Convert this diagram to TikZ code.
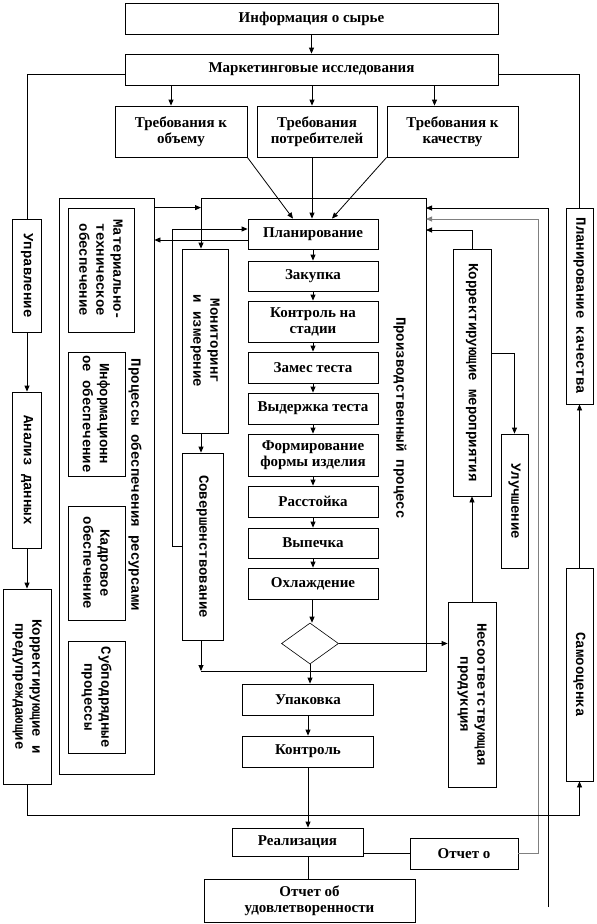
\documentclass[tikz,border=0pt]{standalone}
\usepackage{fontspec}
\setmainfont{Liberation Serif}
\newfontfamily\monofont{Liberation Mono}
\usetikzlibrary{shapes.geometric,arrows.meta,calc}

\begin{document}
\begin{tikzpicture}[
    x=1pt, y=-1pt,
    box/.style={draw, line width=0.8pt, fill=white, align=center, inner sep=1pt,
        font=\bfseries\fontsize{15}{16}\selectfont},
    vbox/.style={draw, line width=0.8pt, inner sep=0pt},
    vtext/.style={rotate=-90, align=center, inner sep=0pt,
        font=\monofont\bfseries\fontsize{14}{17}\selectfont},
    ln/.style={line width=0.8pt},
    arr/.style={->, line width=0.8pt, >={Triangle[length=6pt,width=5pt]}}
]
    \useasboundingbox (0,0) rectangle (597,924);

    % Top: information and marketing
    \node[box, minimum width=373pt, minimum height=31pt] (info) at (311.5,18.5) {Информация о сырье};
    \node[box, minimum width=373pt, minimum height=31pt] (mark) at (311.5,69.5) {Маркетинговые исследования};

    % Requirements
    \node[box, minimum width=132pt, minimum height=51pt] (req1) at (181,131.5) {Требования к\\объему};
    \node[box, minimum width=120pt, minimum height=51pt] (req2) at (317,131.5) {Требования\\потребителей};
    \node[box, minimum width=131pt, minimum height=51pt] (req3) at (452.5,131.5) {Требования к\\качеству};

    % Main production column
    \node[box, minimum width=130pt, minimum height=30pt] (plan) at (313,234) {Планирование};
    \node[box, minimum width=130pt, minimum height=30pt] (zak) at (313,276) {Закупка};
    \node[box, minimum width=130pt, minimum height=41pt] (kst) at (313,321.5) {Контроль на\\стадии};
    \node[box, minimum width=130pt, minimum height=31pt] (zam) at (313,367.5) {Замес теста};
    \node[box, minimum width=130pt, minimum height=31pt] (vyd) at (313,408.5) {Выдержка теста};
    \node[box, minimum width=130pt, minimum height=42pt] (form) at (313,455) {Формирование\\формы изделия};
    \node[box, minimum width=130pt, minimum height=31pt] (rass) at (313,501.5) {Расстойка};
    \node[box, minimum width=130pt, minimum height=30pt] (vyp) at (313,543) {Выпечка};
    \node[box, minimum width=130pt, minimum height=31pt] (ohl) at (313,583.5) {Охлаждение};
    \node[draw, diamond, line width=0.6pt, inner sep=0pt, minimum width=57pt, minimum height=41pt] (dia) at (310,643.5) {};
    \node[box, minimum width=131pt, minimum height=31pt] (upak) at (308,699.5) {Упаковка};
    \node[box, minimum width=131pt, minimum height=31pt] (kontr) at (308,751.5) {Контроль};
    \node[box, minimum width=131pt, minimum height=28pt] (real) at (297.5,842) {Реализация};
    \node[box, minimum width=108pt, minimum height=31pt] (otch) at (464,853.5) {Отчет о};
    \node[box, minimum width=211pt, minimum height=43pt] (udov) at (309.5,900.5) {Отчет об\\удовлетворенности};
    \node[vtext] (pp) at (400,418) {Производственный процесс};

    % Resource processes (left)
    \node[vbox, minimum width=95pt, minimum height=576pt] (proc) at (106.5,486) {};
    \node[vtext] at (135,485) {Процессы обеспечения ресурсами};
    \node[vbox, minimum width=66pt, minimum height=124pt] (mat) at (101,270) {};
    \node[vtext] at (mat) {Материально-\\техническое\\обеспечение};
    \node[vbox, minimum width=57pt, minimum height=124pt] (inf) at (96.5,414) {};
    \node[vtext] at (inf) {Информационн\\ое обеспечение};
    \node[vbox, minimum width=57pt, minimum height=114pt] (kad) at (96.5,563) {};
    \node[vtext] at (kad) {Кадровое\\обеспечение};
    \node[vbox, minimum width=57pt, minimum height=112pt] (sub) at (96.5,697) {};
    \node[vtext] at (sub) {Субподрядные\\процессы};

    % Far left chain
    \node[vbox, minimum width=29pt, minimum height=113pt] (upr) at (27,275.5) {};
    \node[vtext] at (upr) {Управление};
    \node[vbox, minimum width=29pt, minimum height=156pt] (anal) at (27,470) {};
    \node[vtext] at (anal) {Анализ данных};
    \node[vbox, minimum width=48pt, minimum height=195pt] (kpd) at (27,686.5) {};
    \node[vtext] at (kpd) {Корректирующие и\\предупреждающие};

    % Monitoring and improvement
    \node[vbox, minimum width=46pt, minimum height=184pt] (mon) at (205,341) {};
    \node[vtext] at (mon) {Мониторинг\\и измерение};
    \node[vbox, minimum width=41pt, minimum height=187pt] (sov) at (202.5,546.5) {};
    \node[vtext] at (sov) {Совершенствование};

    % Right side
    \node[vbox, minimum width=38pt, minimum height=247pt] (korr) at (472,372.5) {};
    \node[vtext] at (korr) {Корректирующие мероприятия};
    \node[vbox, minimum width=27pt, minimum height=134pt] (ulu) at (514.5,501) {};
    \node[vtext] at (ulu) {Улучшение};
    \node[vbox, minimum width=48pt, minimum height=185pt] (neso) at (472,694.5) {};
    \node[vtext] at (neso) {Несоответствующая\\продукция};
    \node[vbox, minimum width=27pt, minimum height=196pt] (plan2) at (579.5,306) {};
    \node[vtext] at (plan2) {Планирование качества};
    \node[vbox, minimum width=27pt, minimum height=213pt] (samo) at (579.5,674.5) {};
    \node[vtext] at (samo) {Самооценка};

    % Frame corners and free ends
    \coordinate (ftl) at (201,198);
    \coordinate (ftr) at (426,198);
    \coordinate (fbr) at (426,671);
    \coordinate (fbl) at (201,671);
    \coordinate (inlet) at (548,907);

    % Top connectors
    \draw[arr] (info.south) -- (info.south |- mark.north);
    \draw[arr] ([xshift=-10pt]req1.north |- mark.south) -- ([xshift=-10pt]req1.north);
    \draw[arr] ([xshift=-5pt]req2.north |- mark.south) -- ([xshift=-5pt]req2.north);
    \draw[arr] ([xshift=-18pt]req3.north |- mark.south) -- ([xshift=-18pt]req3.north);
    \draw[arr] (req1.south east) -- ([xshift=-20pt]plan.north);
    \draw[arr] ([xshift=-5pt]req2.south) -- ([xshift=-1pt]plan.north);
    \draw[arr] (req3.south west) -- ([xshift=19pt]plan.north);

    % Main column
    \draw[arr] (plan) -- (zak);
    \draw[arr] (zak) -- (kst);
    \draw[arr] (kst) -- (zam);
    \draw[arr] (zam) -- (vyd);
    \draw[arr] (vyd) -- (form);
    \draw[arr] (form) -- (rass);
    \draw[arr] (rass) -- (vyp);
    \draw[arr] (vyp) -- (ohl);
    \draw[arr] ([xshift=-1pt]ohl.south) -- ([xshift=-1pt]ohl.south |- dia.north);
    \draw[arr] (dia.south) -- (dia.south |- upak.north);
    \draw[arr] (upak) -- (kontr);
    \draw[arr] (kontr.south) -- (kontr.south |- real.north);
    \draw[ln] (kontr.south |- real.south) -- (kontr.south |- udov.north);
    \draw[ln] (otch.west) -- (otch.west -| real.east);

    % Frame of the production process
    \draw[ln] (ftl) -- (ftr) -- (fbr) -- (fbl);
    \draw[arr] (ftl) -- (ftl |- mon.north);
    \draw[arr] (ftl |- mon.south) -- (ftl |- sov.north);
    \draw[arr] (ftl |- sov.south) -- (fbl);
    \draw[arr] ([yshift=-10pt]proc.north east) -- ([yshift=-10pt]proc.north east -| ftl);
    \draw[arr] ([yshift=-6pt]plan.west) -- ([yshift=-6pt]plan.west -| proc.east);
    \draw[arr] (sov.west) -- ++(-9,0) |- ([yshift=5pt]plan.west);

    % Right side connectors
    \draw[arr] (inlet) |- ($(ftr)+(0,10)$);
    \draw[arr, draw=gray] (otch.east) -- ++(20,0) |- ($(ftr)+(0,21)$);
    \draw[arr] (korr.north) |- ($(ftr)+(0,32)$);
    \draw[arr] ([yshift=19pt]korr.east) -| (ulu.north);
    \draw[arr] (neso.north) -- (korr.south);
    \draw[arr] (dia.east) -- (dia.east -| neso.west);

    % Outer loops
    \draw[ln] ([yshift=-5pt]mark.west) -| (upr.north);
    \draw[arr] (upr) -- (anal);
    \draw[arr] (anal) -- (kpd);
    \draw[arr] (kpd.south) -- ++(0,31) -| (samo.south);
    \draw[ln] ([yshift=-5pt]mark.east) -| (plan2.north);
    \draw[arr] (samo) -- (plan2);
\end{tikzpicture}
\end{document}
